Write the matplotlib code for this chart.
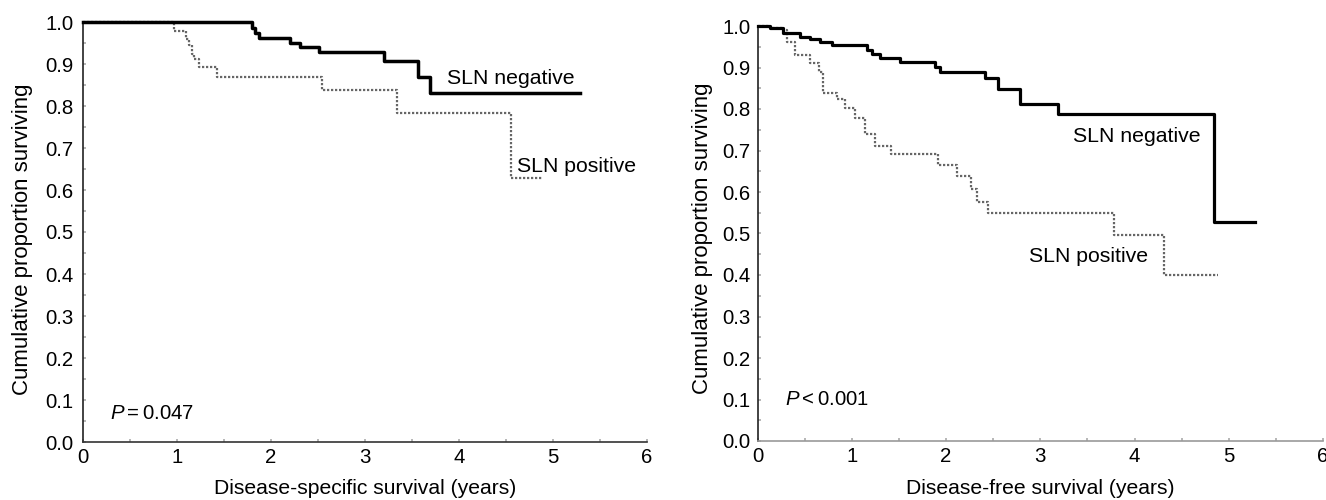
import matplotlib
matplotlib.use("Agg")
import matplotlib.pyplot as plt
from matplotlib.ticker import MultipleLocator, FormatStrFormatter

plt.rcParams['font.family'] = ['Liberation Sans', 'DejaVu Sans']
plt.rcParams['mathtext.fontset'] = 'custom'
plt.rcParams['mathtext.rm'] = 'Liberation Sans'
plt.rcParams['mathtext.it'] = 'Liberation Sans:italic'

# Kaplan-Meier curves (years, proportion surviving)
dss_neg_t = [0, 1.794, 1.830, 1.871, 2.198, 2.306, 2.512, 3.203, 3.566, 3.688, 5.29]
dss_neg_s = [1.0, 0.985, 0.973, 0.961, 0.951, 0.940, 0.928, 0.906, 0.870, 0.830, 0.830]

dss_pos_t = [0, 0.968, 1.092, 1.131, 1.156, 1.184, 1.234, 1.422, 2.54, 3.34, 4.55, 4.89]
dss_pos_s = [1.0, 0.979, 0.960, 0.945, 0.925, 0.911, 0.894, 0.868, 0.837, 0.784, 0.628, 0.628]

dfs_neg_t = [0, 0.13, 0.27, 0.45, 0.56, 0.66, 0.79, 1.16, 1.21, 1.30, 1.51, 1.88, 1.94,
             2.41, 2.55, 2.79, 3.19, 4.84, 5.28]
dfs_neg_s = [1.0, 0.995, 0.984, 0.974, 0.968, 0.961, 0.954, 0.942, 0.933, 0.924, 0.914,
             0.902, 0.888, 0.875, 0.847, 0.812, 0.789, 0.527, 0.527]

dfs_pos_t = [0, 0.13, 0.26, 0.31, 0.40, 0.56, 0.65, 0.69, 0.84, 0.93, 1.03, 1.14, 1.25,
             1.42, 1.92, 2.12, 2.27, 2.33, 2.45, 3.78, 4.31, 4.89]
dfs_pos_s = [1.0, 0.995, 0.99, 0.962, 0.930, 0.910, 0.890, 0.839, 0.823, 0.803, 0.779,
             0.739, 0.712, 0.691, 0.664, 0.639, 0.607, 0.576, 0.549, 0.497, 0.399, 0.399]

tick_fs = 14.7
xlab_fs = 15.2
ylab_fs = 16
lab_fs = 15.3

fig = plt.figure(figsize=(13.26, 5), dpi=100)
ax1 = fig.add_axes([83/1326, 1-442/500, 564/1326, 420/500])
ax2 = fig.add_axes([757.5/1326, 1-441/500, 565.5/1326, 415/500])


def style_axis(ax, xspine_col, ypad, ylab_x, ylab_y):
    ax.set_xlim(0, 6)
    ax.set_ylim(0, 1.0)
    for s in ['top', 'right']:
        ax.spines[s].set_visible(False)
    ax.spines['left'].set_color('#222222')
    ax.spines['bottom'].set_color(xspine_col)
    ax.spines['left'].set_linewidth(1.2)
    ax.spines['bottom'].set_linewidth(1.2)
    ax.xaxis.set_major_locator(MultipleLocator(1))
    ax.xaxis.set_minor_locator(MultipleLocator(0.5))
    ax.yaxis.set_major_locator(MultipleLocator(0.1))
    ax.yaxis.set_minor_locator(MultipleLocator(0.05))
    ax.yaxis.set_major_formatter(FormatStrFormatter('%.1f'))
    ax.tick_params(which='both', direction='in', length=2, width=1.2, color='#aaaaaa')
    ax.tick_params(axis='x', which='major', labelsize=tick_fs, pad=4)
    ax.tick_params(axis='y', which='major', labelsize=tick_fs, pad=ypad)
    ax.set_ylabel('Cumulative proportion surviving', fontsize=ylab_fs)
    ax.yaxis.set_label_coords(ylab_x, ylab_y)


style_axis(ax1, '#333333', 7, -0.089, 0.483)
style_axis(ax2, '#999999', 5, -0.079, 0.489)

ax1.step(dss_neg_t, dss_neg_s, where='post', color='black', lw=2.5, clip_on=False, zorder=3)
ax1.step(dss_pos_t, dss_pos_s, where='post', color='#666666', lw=1.6,
         linestyle=(0, (1, 0.8)), clip_on=False, zorder=2)
ax2.step(dfs_neg_t, dfs_neg_s, where='post', color='black', lw=2.3, clip_on=False, zorder=3)
ax2.step(dfs_pos_t, dfs_pos_s, where='post', color='#666666', lw=1.6,
         linestyle=(0, (1, 0.8)), clip_on=False, zorder=2)

ax1.set_xlabel('Disease-specific survival (years)', fontsize=xlab_fs)
ax2.set_xlabel('Disease-free survival (years)', fontsize=xlab_fs)
for ax in (ax1, ax2):
    ax.xaxis.label.set_va('center')
ax1.xaxis.set_label_coords(0.5, -46/420)
ax2.xaxis.set_label_coords(0.5, -47/415)

ax1.text(3.87, 0.866, 'SLN negative', fontsize=lab_fs, va='center', ha='left')
ax1.text(4.62, 0.656, 'SLN positive', fontsize=lab_fs, va='center', ha='left', clip_on=False)
ax2.text(3.35, 0.733, 'SLN negative', fontsize=lab_fs, va='center', ha='left')
ax2.text(2.88, 0.444, 'SLN positive', fontsize=lab_fs, va='center', ha='left')

ax1.text(0.29, 0.068, r'$P=0.047$', fontsize=tick_fs, va='center', ha='left')
ax2.text(0.29, 0.10, r'$P<0.001$', fontsize=tick_fs, va='center', ha='left')

fig.savefig('out.png', dpi=100)
